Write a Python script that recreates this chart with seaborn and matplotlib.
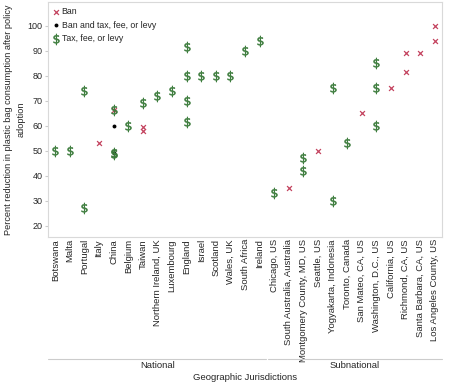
import matplotlib
matplotlib.use("Agg")
import matplotlib.pyplot as plt
import matplotlib.transforms as mtransforms
import seaborn as sns
import pandas as pd

# categories along the x axis
national = ["Botswana", "Malta", "Portugal", "Italy", "China", "Belgium", "Taiwan",
            "Northern Ireland, UK", "Luxembourg", "England", "Israel", "Scotland",
            "Wales, UK", "South Africa", "Ireland"]
subnational = ["Chicago, US", "South Australia, Australia", "Montgomery County, MD, US",
               "Seattle, US", "Yogyakarta, Indonesia", "Toronto, Canada", "San Mateo, CA, US",
               "Washington, D.C., US", "California, US", "Richmond, CA, US",
               "Santa Barbara, CA, US", "Los Angeles County, US"]
places = national + subnational

# Ban
ban_places = ["Italy", "China", "Taiwan", "Taiwan", "South Australia, Australia", "Seattle, US",
              "San Mateo, CA, US", "California, US", "Richmond, CA, US", "Richmond, CA, US",
              "Santa Barbara, CA, US", "Los Angeles County, US", "Los Angeles County, US"]
ban_values = [53, 66.5, 59.5, 58, 35, 50, 65, 75, 89, 81.5, 89, 100, 94]

# Ban and tax, fee, or levy
both_places = ["China", "China"]
both_values = [60, 49.3]

# Tax, fee, or levy
tax_places = ["Botswana", "Malta", "Portugal", "Portugal", "China", "China", "China", "Belgium",
              "Taiwan", "Northern Ireland, UK", "Luxembourg", "England", "England", "England",
              "England", "Israel", "Scotland", "Wales, UK", "South Africa", "Ireland",
              "Chicago, US", "Montgomery County, MD, US", "Montgomery County, MD, US",
              "Yogyakarta, Indonesia", "Yogyakarta, Indonesia", "Toronto, Canada",
              "Washington, D.C., US", "Washington, D.C., US", "Washington, D.C., US"]
tax_values = [50, 50, 74, 27, 66.5, 49, 48.6, 60, 69, 72, 74, 91.5, 80, 70, 61.5, 80, 80, 80,
              90, 94, 33, 47, 42, 75, 30, 53, 85, 75, 60]

sns.set_style("white")
plt.rcParams["font.family"] = ["Liberation Sans", "DejaVu Sans"]

ban = pd.DataFrame({"place": ban_places, "value": ban_values})
both = pd.DataFrame({"place": both_places, "value": both_values})
tax = pd.DataFrame({"place": tax_places, "value": tax_values})

fig = plt.figure(figsize=(4.53, 3.83), dpi=100)
ax = fig.add_axes([48 / 453, 1 - 237 / 383, 394 / 453, 235 / 383])

red = "#c4435f"
green = "#3b7b3b"
sns.stripplot(data=ban, x="place", y="value", order=places, jitter=False, ax=ax,
              marker="x", color=red, s=3.5, linewidth=0.9, label="Ban")
sns.stripplot(data=both, x="place", y="value", order=places, jitter=False, ax=ax,
              marker="o", color="black", s=2.8, linewidth=0, label="Ban and tax, fee, or levy")
sns.stripplot(data=tax, x="place", y="value", order=places, jitter=False, ax=ax,
              marker="$\\$$", color=green, s=8, linewidth=0.4, edgecolor=green,
              label="Tax, fee, or levy")

ax.set_xlim(-0.5, len(places) - 0.5)
ax.set_ylim(15.5, 109.5)
ax.set_yticks(range(20, 101, 10))
ax.set_xlabel("")
ax.set_ylabel("Percent reduction in plastic bag consumption after policy\nadoption",
              fontsize=6.6, labelpad=1, linespacing=1.55)
ax.tick_params(axis="y", labelsize=6.5, length=2, color="#cccccc", pad=2, left=True)
ax.tick_params(axis="x", labelsize=6.8, length=0, pad=1.5, rotation=90)
for sp in ax.spines.values():
    sp.set_color("#d9d9d9")
    sp.set_linewidth(0.8)

# legend: one handle per marker type
handles, labels = ax.get_legend_handles_labels()
uniq = {}
for h, l in zip(handles, labels):
    if l not in uniq:
        uniq[l] = h
ax.legend(list(uniq.values()), list(uniq.keys()), loc="upper left", frameon=False,
          fontsize=6.3, handletextpad=0.2, borderaxespad=0.2, labelspacing=0.55,
          handlelength=0.8, borderpad=0.35, bbox_to_anchor=(0.0, 1.0))

# group brackets below the tick labels
trans = mtransforms.blended_transform_factory(ax.transData, fig.transFigure)
line_y = 1 - 359 / 383
split = len(national) - 0.5
ax.plot([-0.5, split - 0.05], [line_y, line_y], transform=trans, color="#cccccc",
        lw=0.8, clip_on=False)
ax.plot([split + 0.05, len(places) - 0.5], [line_y, line_y], transform=trans,
        color="#cccccc", lw=0.8, clip_on=False)
ax.text((len(national) - 1) / 2, 1 - 365 / 383, "National", transform=trans,
        ha="center", va="center", fontsize=6.8)
ax.text(len(national) + (len(subnational) - 1) / 2, 1 - 365 / 383, "Subnational",
        transform=trans, ha="center", va="center", fontsize=6.8)
fig.text(245 / 453, 1 - 377 / 383, "Geographic Jurisdictions", ha="center", va="center",
         fontsize=6.8)

fig.savefig("out.png", dpi=100)
